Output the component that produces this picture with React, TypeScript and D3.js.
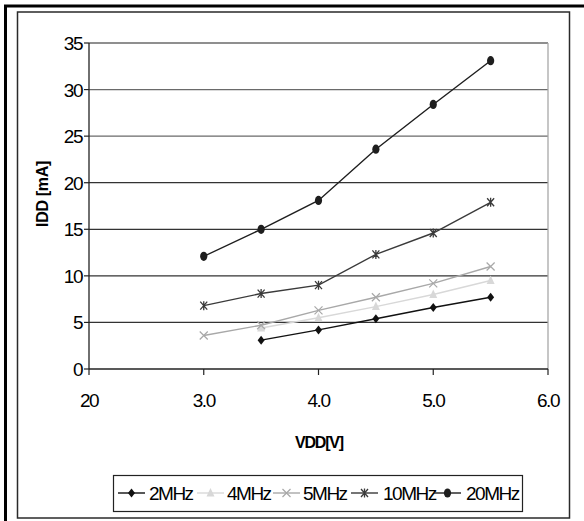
import React from "react";
import * as d3 from "d3";

const xValues = [3.0, 3.5, 4.0, 4.5, 5.0, 5.5];
const series2MHz = [null, 3.1, 4.2, 5.4, 6.6, 7.7];
const series4MHz = [null, 4.4, 5.5, 6.7, 8.0, 9.5];
const series5MHz = [3.6, 4.7, 6.3, 7.7, 9.2, 11.0];
const series10MHz = [6.8, 8.1, 9.0, 12.3, 14.6, 17.9];
const series20MHz = [12.1, 15.0, 18.1, 23.6, 28.4, 33.1];
const seriesNames = ["2MHz", "4MHz", "5MHz", "10MHz", "20MHz"];
const xTickValues = [2, 3, 4, 5, 6];
const xTickLabels = ["20", "3.0", "4.0", "5.0", "6.0"];
const yTickValues = [0, 5, 10, 15, 20, 25, 30, 35];

type Marker = "diamond" | "triangle" | "x" | "star" | "circle";
const seriesData = [series2MHz, series4MHz, series5MHz, series10MHz, series20MHz];
const seriesColors = ["#111111", "#d8d8d8", "#a8a8a8", "#3a3a3a", "#1e1e1e"];
const seriesMarkers: Marker[] = ["diamond", "triangle", "x", "star", "circle"];

const FONT = "'Liberation Sans', Arial, sans-serif";

function MarkerShape({ type, x, y, color }: { type: Marker; x: number; y: number; color: string }) {
  switch (type) {
    case "diamond":
      return <path d={`M${x},${y - 4.5}L${x + 3.5},${y}L${x},${y + 4.5}L${x - 3.5},${y}Z`} fill={color} />;
    case "triangle":
      return <path d={`M${x},${y - 5}L${x + 4},${y + 3.5}L${x - 4},${y + 3.5}Z`} fill={color} />;
    case "x":
      return (
        <path d={`M${x - 4},${y - 4}L${x + 4},${y + 4}M${x - 4},${y + 4}L${x + 4},${y - 4}`} stroke={color} strokeWidth={1.2} fill="none" />
      );
    case "star":
      return (
        <path
          d={`M${x - 3.5},${y - 4}L${x + 3.5},${y + 4}M${x - 3.5},${y + 4}L${x + 3.5},${y - 4}M${x},${y - 4.5}L${x},${y + 4.5}`}
          stroke={color}
          strokeWidth={1.3}
          fill="none"
        />
      );
    case "circle":
      return <ellipse cx={x} cy={y} rx={3.6} ry={4.6} fill={color} />;
  }
}

export default function App() {
  const W = 584;
  const H = 521;
  const x = d3.scaleLinear().domain([2, 6]).range([89, 548]);
  const y = d3.scaleLinear().domain([0, 35]).range([369, 43]);

  const line = d3
    .line<[number, number | null]>()
    .defined((d) => d[1] != null)
    .x((d) => x(d[0]))
    .y((d) => y(d[1] as number));

  const legendItems = [
    { lineX: 118, textX: 149 },
    { lineX: 197, textX: 227 },
    { lineX: 273, textX: 303 },
    { lineX: 351, textX: 383 },
    { lineX: 434, textX: 466 },
  ];

  return (
    <svg width={W} height={H} style={{ position: "absolute", left: 0, top: 0, background: "#fff" }} fontFamily={FONT}>
      <rect x={0} y={0} width={W} height={H} fill="#fff" />
      {/* outer thick frame (top & left) */}
      <line x1={4} y1={6} x2={W} y2={6} stroke="#000" strokeWidth={3} />
      <line x1={5.5} y1={5} x2={5.5} y2={H} stroke="#000" strokeWidth={3} />
      {/* inner frame */}
      <rect x={17.5} y={12} width={552} height={506} fill="none" stroke="#2a2a2a" strokeWidth={1.5} />

      {/* grid lines */}
      {yTickValues.slice(1).map((v) => (
        <line key={v} x1={x(2)} x2={x(6)} y1={y(v)} y2={y(v)} stroke={v >= 25 ? "#6a6a6a" : "#333"} strokeWidth={1.3} />
      ))}
      {/* right border of plot area */}
      <line x1={x(6)} x2={x(6)} y1={y(35)} y2={y(0)} stroke="#a8a8a8" strokeWidth={1.3} />
      {/* axes */}
      <line x1={x(2)} x2={x(6)} y1={y(0)} y2={y(0)} stroke="#222" strokeWidth={1.3} />
      <line x1={x(2)} x2={x(2)} y1={y(35)} y2={y(0)} stroke="#222" strokeWidth={1.3} />
      {yTickValues.map((v) => (
        <g key={v}>
          <line x1={x(2) - 5} x2={x(2)} y1={y(v)} y2={y(v)} stroke="#222" strokeWidth={1.2} />
          <text x={x(2) - 7} y={y(v) + 7} textAnchor="end" fontSize={19} letterSpacing={-1.5} fill="#000">
            {v}
          </text>
        </g>
      ))}
      {xTickValues.map((v, i) => (
        <g key={v}>
          <line x1={x(v)} x2={x(v)} y1={y(0)} y2={y(0) + 6} stroke="#222" strokeWidth={1.2} />
          <text x={x(v)} y={407} textAnchor="middle" fontSize={19} letterSpacing={-1.5} fill="#000">
            {xTickLabels[i]}
          </text>
        </g>
      ))}

      {/* axis titles */}
      <text
        transform={`translate(48,${194}) rotate(-90)`}
        textAnchor="middle"
        fontSize={16}
        fontWeight="bold"
        letterSpacing={-0.3}
        fill="#000"
      >
        IDD [mA]
      </text>
      <text x={319} y={448} textAnchor="middle" fontSize={16} fontWeight="bold" letterSpacing={-1.2} fill="#000">
        VDD[V]
      </text>

      {/* series */}
      {seriesData.map((s, si) => {
        const pts = xValues.map((xv, i) => [xv, s[i]] as [number, number | null]);
        return (
          <g key={si}>
            <path d={line(pts) || ""} fill="none" stroke={seriesColors[si]} strokeWidth={1.4} />
            {pts
              .filter((p) => p[1] != null)
              .map((p, i) => (
                <MarkerShape key={i} type={seriesMarkers[si]} x={x(p[0])} y={y(p[1] as number)} color={seriesColors[si]} />
              ))}
          </g>
        );
      })}

      {/* legend */}
      <rect x={113.5} y={475.5} width={409} height={36} fill="#fff" stroke="#222" strokeWidth={1.2} />
      {seriesNames.map((name, i) => {
        const it = legendItems[i];
        const cy = 493;
        return (
          <g key={name}>
            <line x1={it.lineX} x2={it.lineX + 27} y1={cy} y2={cy} stroke={seriesColors[i]} strokeWidth={1.4} />
            <MarkerShape type={seriesMarkers[i]} x={it.lineX + 13.5} y={cy} color={seriesColors[i]} />
            <text x={it.textX} y={cy + 7} fontSize={19} letterSpacing={-1.5} fill="#000">
              {name}
            </text>
          </g>
        );
      })}
    </svg>
  );
}
